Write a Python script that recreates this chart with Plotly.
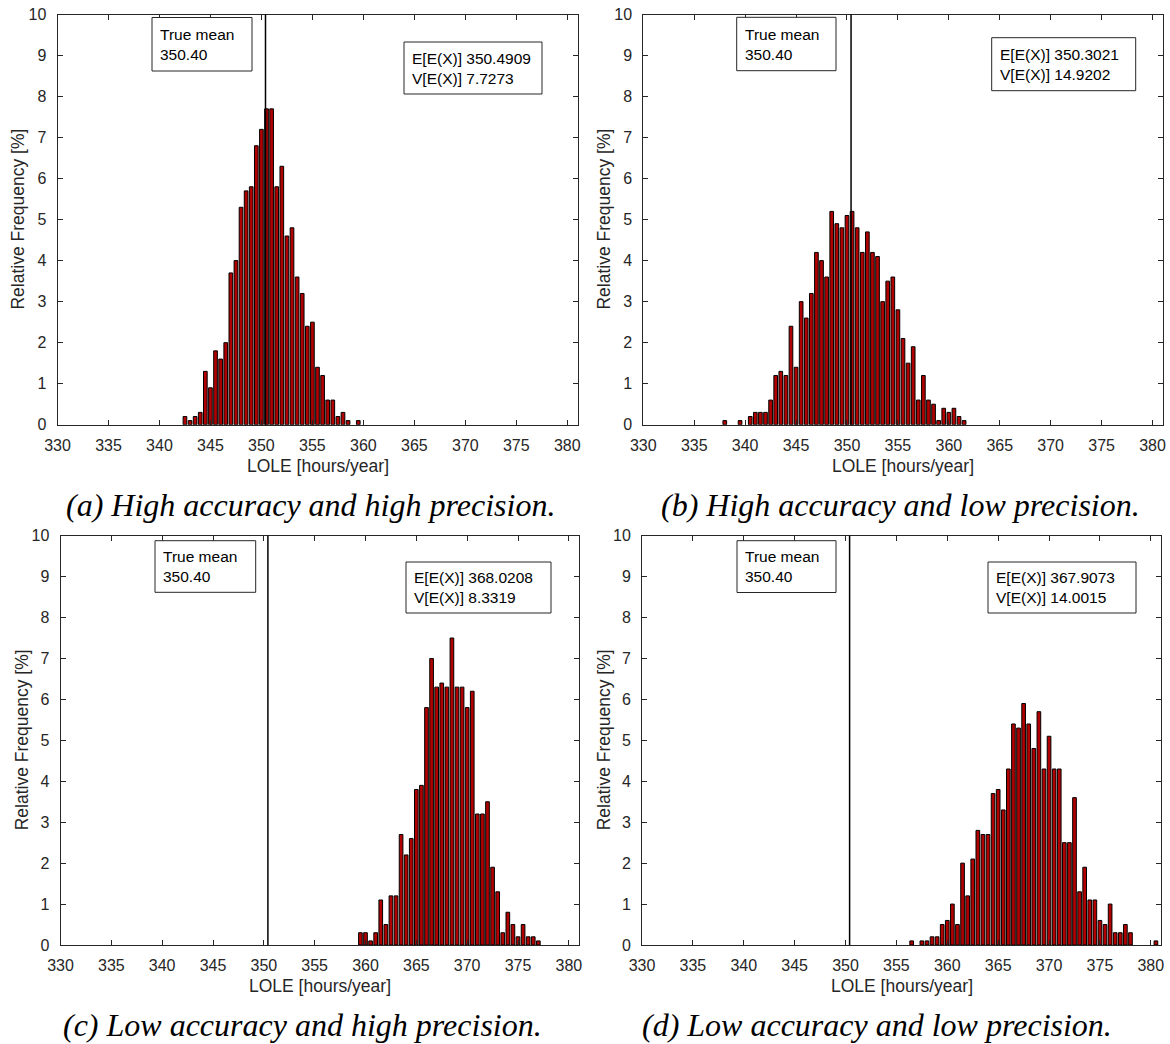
import plotly.graph_objects as go

W, H = 1170, 1044

# ---------------- data (relative frequency in %, bins of 0.5 hours/year) ----------------
true_mean = 350.40

a_x = [342.5, 343.0, 343.5, 344.0, 344.5, 345.0, 345.5, 346.0, 346.5, 347.0, 347.5, 348.0,
       348.5, 349.0, 349.5, 350.0, 350.5, 351.0, 351.5, 352.0, 352.5, 353.0, 353.5, 354.0,
       354.5, 355.0, 355.5, 356.0, 356.5, 357.0, 357.5, 358.0, 358.5, 359.5]
a_y = [0.2, 0.1, 0.2, 0.3, 1.3, 0.9, 1.8, 1.6, 2.0, 3.7, 4.0, 5.3,
       5.7, 5.8, 6.8, 7.2, 7.7, 7.7, 5.8, 6.3, 4.6, 4.8, 3.6, 3.2,
       2.4, 2.5, 1.4, 1.2, 0.6, 0.6, 0.2, 0.3, 0.1, 0.1]

b_x = [338.0, 339.5, 340.5, 341.0, 341.5, 342.0, 342.5, 343.0, 343.5, 344.0, 344.5, 345.0,
       345.5, 346.0, 346.5, 347.0, 347.5, 348.0, 348.5, 349.0, 349.5, 350.0, 350.5, 351.0,
       351.5, 352.0, 352.5, 353.0, 353.5, 354.0, 354.5, 355.0, 355.5, 356.0, 356.5, 357.0,
       357.5, 358.0, 358.5, 359.0, 359.5, 360.0, 360.5, 361.0, 361.5]
b_y = [0.1, 0.1, 0.2, 0.3, 0.3, 0.3, 0.6, 1.2, 1.3, 1.2, 2.4, 1.4,
       3.0, 2.6, 3.2, 4.2, 4.0, 3.6, 5.2, 4.9, 4.8, 5.1, 5.2, 4.8,
       4.2, 4.7, 4.2, 4.1, 3.0, 3.5, 3.6, 2.8, 2.1, 1.5, 1.9, 0.6,
       1.2, 0.6, 0.5, 0.1, 0.4, 0.3, 0.4, 0.2, 0.1]

c_x = [359.5, 360.0, 360.5, 361.0, 361.5, 362.0, 362.5, 363.0, 363.5, 364.0, 364.5, 365.0,
       365.5, 366.0, 366.5, 367.0, 367.5, 368.0, 368.5, 369.0, 369.5, 370.0, 370.5, 371.0,
       371.5, 372.0, 372.5, 373.0, 373.5, 374.0, 374.5, 375.0, 375.5, 376.0, 376.5, 377.0]
c_y = [0.3, 0.3, 0.1, 0.3, 1.1, 0.5, 1.2, 1.2, 2.7, 2.2, 2.6, 3.8,
       3.9, 5.8, 7.0, 6.3, 6.4, 6.3, 7.5, 6.3, 6.3, 5.8, 6.2, 3.2,
       3.2, 3.5, 1.9, 1.3, 0.3, 0.8, 0.5, 0.2, 0.5, 0.2, 0.2, 0.1]

d_x = [356.5, 357.5, 358.0, 358.5, 359.0, 359.5, 360.0, 360.5, 361.0, 361.5, 362.0, 362.5,
       363.0, 363.5, 364.0, 364.5, 365.0, 365.5, 366.0, 366.5, 367.0, 367.5, 368.0, 368.5,
       369.0, 369.5, 370.0, 370.5, 371.0, 371.5, 372.0, 372.5, 373.0, 373.5, 374.0, 374.5,
       375.0, 375.5, 376.0, 376.5, 377.0, 377.5, 378.0, 380.5]
d_y = [0.1, 0.1, 0.1, 0.2, 0.2, 0.5, 0.6, 1.0, 0.5, 2.0, 1.2, 2.1,
       2.8, 2.7, 2.7, 3.7, 3.8, 3.3, 4.3, 5.4, 5.3, 5.9, 5.4, 4.8,
       5.7, 4.3, 5.1, 4.3, 4.3, 2.5, 2.5, 3.6, 1.3, 1.9, 1.1, 1.1,
       0.6, 0.5, 1.0, 0.3, 0.3, 0.5, 0.3, 0.1]

stats = [("350.4909", "7.7273"), ("350.3021", "14.9202"),
         ("368.0208", "8.3319"), ("367.9073", "14.0015")]
captions = ["(a) High accuracy and high precision.",
            "(b) High accuracy and low precision.",
            "(c) Low accuracy and high precision.",
            "(d) Low accuracy and low precision."]
x_range = [330, 381]
x_ticks = [330, 335, 340, 345, 350, 355, 360, 365, 370, 375, 380]
y_ticks = [0, 1, 2, 3, 4, 5, 6, 7, 8, 9, 10]

# ---------------- layout geometry (pixels) ----------------
def px(x):
    return x / W

def py(y):
    return 1 - y / H

panels = [
    dict(data=(a_x, a_y), plot=(57.5, 577.5, 14.5, 424.7), tm=(152, 252, 17.5, 71),
         st=(404, 542, 42, 94), ytitle_x=18, cap=(310, 505)),
    dict(data=(b_x, b_y), plot=(643.3, 1162.7, 14.5, 424.7), tm=(736.7, 836, 17.3, 70.7),
         st=(991.7, 1135.7, 37.7, 90.7), ytitle_x=604, cap=(900, 505)),
    dict(data=(c_x, c_y), plot=(60.5, 579, 535.7, 945), tm=(155, 255.7, 540.7, 592.3),
         st=(406, 551, 562, 613), ytitle_x=22, cap=(302, 1025)),
    dict(data=(d_x, d_y), plot=(642, 1161, 535.7, 945), tm=(737, 836, 540.7, 592.5),
         st=(988, 1136, 562, 613), ytitle_x=604, cap=(877, 1025)),
]

AX = "#262626"
FONT = "Liberation Sans, Arial, sans-serif"

fig = go.Figure()
layout = dict(
    width=W, height=H, margin=dict(l=0, r=0, t=0, b=0, autoexpand=False),
    paper_bgcolor="white", plot_bgcolor="white", showlegend=False,
    font=dict(family=FONT, size=15, color=AX),
)
shapes = []
annotations = []

for i, p in enumerate(panels):
    n = "" if i == 0 else str(i + 1)
    xs, ys = p["data"]
    x0, x1, y0, y1 = p["plot"]
    fig.add_trace(go.Bar(
        x=xs, y=ys, width=0.36, xaxis="x" + n, yaxis="y" + n,
        marker=dict(color="#B00000", line=dict(color="black", width=1)),
        hoverinfo="x+y",
    ))
    common = dict(showline=True, linecolor=AX, linewidth=1, mirror="ticks",
                  ticks="inside", ticklen=5, tickcolor=AX, tickwidth=1,
                  showgrid=False, zeroline=False, automargin=False,
                  tickfont=dict(family=FONT, size=16, color=AX))
    layout["xaxis" + n] = dict(common, domain=[px(x0), px(x1)], anchor="y" + n,
                               range=x_range, tickvals=x_ticks, ticklabelstandoff=6)
    layout["yaxis" + n] = dict(common, domain=[py(y1), py(y0)], anchor="x" + n,
                               range=[0, 10], tickvals=y_ticks, ticklabelstandoff=7)
    # true mean line
    shapes.append(dict(type="line", xref="x" + n, yref="y" + n + " domain",
                       x0=true_mean, x1=true_mean, y0=0, y1=1,
                       line=dict(color="black", width=1.5)))
    # text boxes
    for (bx0, bx1, by0, by1) in (p["tm"], p["st"]):
        shapes.append(dict(type="rect", xref="paper", yref="paper",
                           x0=px(bx0), x1=px(bx1), y0=py(by1), y1=py(by0),
                           line=dict(color=AX, width=1), fillcolor="white", layer="above"))
    tx0, tx1, ty0, ty1 = p["tm"]
    annotations.append(dict(xref="paper", yref="paper", x=px(tx0 + 6), y=py((ty0 + ty1) / 2),
                            xanchor="left", yanchor="middle", align="left", showarrow=False,
                            text="True mean<br>%.2f" % true_mean,
                            font=dict(family=FONT, size=15.5, color="black")))
    sx0, sx1, sy0, sy1 = p["st"]
    e, v = stats[i]
    annotations.append(dict(xref="paper", yref="paper", x=px(sx0 + 6), y=py((sy0 + sy1) / 2),
                            xanchor="left", yanchor="middle", align="left", showarrow=False,
                            text="E[E(X)] %s<br>V[E(X)] %s" % (e, v),
                            font=dict(family=FONT, size=15.5, color="black")))
    # axis titles
    annotations.append(dict(xref="paper", yref="paper", x=px((x0 + x1) / 2), y=py(y1 + 41),
                            xanchor="center", yanchor="middle", showarrow=False,
                            text="LOLE [hours/year]",
                            font=dict(family=FONT, size=17.5, color=AX)))
    annotations.append(dict(xref="paper", yref="paper", x=px(p["ytitle_x"]), y=py((y0 + y1) / 2),
                            xanchor="center", yanchor="middle", showarrow=False, textangle=-90,
                            text="Relative Frequency [%]",
                            font=dict(family=FONT, size=17.5, color=AX)))
    cx, cy = p["cap"]
    annotations.append(dict(xref="paper", yref="paper", x=px(cx), y=py(cy),
                            xanchor="center", yanchor="middle", showarrow=False,
                            text="<i>%s</i>" % captions[i],
                            font=dict(family="Liberation Serif, Times New Roman, serif",
                                      size=32, color="black")))

layout["shapes"] = shapes
layout["annotations"] = annotations
fig.update_layout(**layout)
fig.write_html("out.html")
